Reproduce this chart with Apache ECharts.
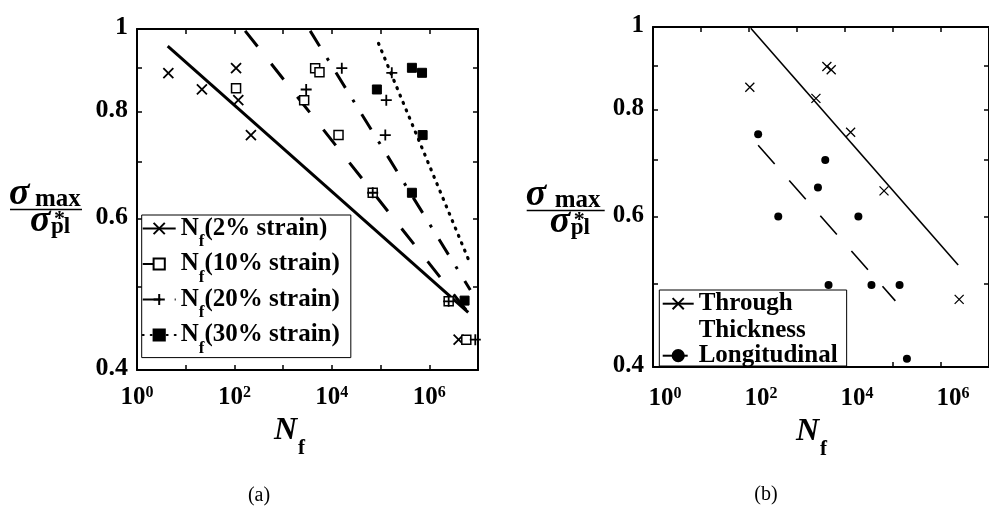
<!DOCTYPE html>
<html><head><meta charset="utf-8">
<script src="https://cdn.jsdelivr.net/npm/echarts@6/dist/echarts.min.js"></script>
<style>html,body{margin:0;padding:0;background:#fff}#c{width:989px;height:506px}</style>
</head><body><div id="c"></div>
<script>
// ---------- data: panel (a) ----------
const strain2N  = [4.4, 21.5, 108, 120, 218, 4.0e6];
const strain2S  = [0.888, 0.850, 0.900, 0.826, 0.752, 0.434];
const strain10N = [108, 4540, 5570, 2700, 1.37e4, 6.9e4, 2.5e6, 5.75e6];
const strain10S = [0.853, 0.900, 0.890, 0.826, 0.752, 0.644, 0.481, 0.434];
const strain20N = [1.6e4, 2970, 1.7e5, 1.31e5, 1.25e5, 6.9e4, 2.5e6, 8.8e6];
const strain20S = [0.900, 0.850, 0.889, 0.826, 0.752, 0.644, 0.481, 0.434];
const strain30N = [8.4e4, 4.4e5, 7.1e5, 7.3e5, 4.4e5, 5.3e6];
const strain30S = [0.850, 0.901, 0.889, 0.752, 0.644, 0.482];
const fit2N  = [4.27, 6.3e6];  const fit2S  = [0.955, 0.467];
const fit10N = [166, 6.4e6];   const fit10S = [0.995, 0.466];
const fit20N = [3590, 6.95e6]; const fit20S = [0.995, 0.496];
const fit30N = [9.08e4, 6.4e6]; const fit30S = [0.962, 0.538];
const legendA = ['2% strain', '10% strain', '20% strain', '30% strain'];
// ---------- data: panel (b) ----------
const throughN = [104, 4190, 5160, 2480, 1.31e4, 6.5e4, 2.39e6];
const throughS = [0.850, 0.899, 0.891, 0.825, 0.753, 0.643, 0.480];
const longN = [155, 3880, 2730, 407, 1.9e4, 4540, 3.56e4, 1.37e5, 1.95e5];
const longS = [0.749, 0.699, 0.649, 0.600, 0.600, 0.499, 0.499, 0.499, 0.409];
const fitThroughN = [109, 2.28e6]; const fitThroughS = [0.9965, 0.5265];
const fitLongN = [155, 1.12e5];    const fitLongS = [0.727, 0.478];
const legendB = ['Through Thickness', 'Longitudinal'];
// ---------- axes ticks ----------
const xTickValues  = [1, 10, 100, 1e3, 1e4, 1e5, 1e6, 1e7];
const xLabelValues = [1, 100, 1e4, 1e6];
const yTickValues  = [0.4, 0.5, 0.6, 0.7, 0.8, 0.9, 1];
const yLabelValues = [0.4, 0.6, 0.8, 1];

const FONT = 'Liberation Serif';
const CROSS = 'path://M0,0L10,10M10,0L0,10';
const PLUS = 'path://M5,0L5,10M0,5L10,5';
const pts = (xs, ys) => xs.map((x, i) => [x, ys[i]]);

const xRich = {
  b: {fontFamily: FONT, fontWeight: 'bold', fontSize: 25, lineHeight: 25, verticalAlign: 'bottom', color: '#000'},
  p: {fontFamily: FONT, fontWeight: 'bold', fontSize: 16, lineHeight: 16, verticalAlign: 'top', color: '#000'}
};
const nameRich = {
  n: {fontFamily: FONT, fontWeight: 'bold', fontStyle: 'italic', fontSize: 32, lineHeight: 32, verticalAlign: 'top', color: '#000'},
  s: {fontFamily: FONT, fontWeight: 'bold', fontSize: 21, verticalAlign: 'top', padding: [23, 0, 0, 1], color: '#000'}
};
function xAxisDef(grid, pos, labelShift, labelMargin, nameShift) {
  const bottom = pos === 'bottom';
  return {
    type: 'log', logBase: 10, gridIndex: grid, position: pos, min: 1, max: 1e7,
    axisLine: {show: true, onZero: false, lineStyle: {color: '#000', width: 2}},
    axisTick: {show: true, inside: true, length: 5, customValues: xTickValues, lineStyle: {color: '#000', width: 1.5}},
    axisLabel: {show: bottom, customValues: xLabelValues, margin: labelMargin, padding: [0, 0, 0, labelShift],
      formatter: v => '{b|10}{p|' + Math.round(Math.log10(v)) + '}', rich: xRich},
    splitLine: {show: false},
    name: bottom ? '{n|N}{s|f}' : '', nameLocation: 'middle', nameGap: 34,
    nameTextStyle: {rich: nameRich, padding: [0, nameShift, 0, 0]}
  };
}
function yAxisDef(grid, pos, fs, lh) {
  const left = pos === 'left';
  return {
    type: 'log', logBase: 10, gridIndex: grid, position: pos, min: 0.4, max: 1,
    axisLine: {show: true, onZero: false, lineStyle: {color: '#000', width: 2}},
    axisTick: {show: true, inside: true, length: 5, customValues: yTickValues, lineStyle: {color: '#000', width: 1.5}},
    axisLabel: {show: left, customValues: yLabelValues, margin: 9, verticalAlign: 'bottom', lineHeight: lh,
      fontFamily: FONT, fontWeight: 'bold', fontSize: fs, color: '#000',
      formatter: v => String(Math.round(v * 10) / 10)},
    splitLine: {show: false}
  };
}
function fitSeries(name, xi, yi, xs, ys, sym, size, lw, dash, cap, iw) {
  return {type: 'line', name, xAxisIndex: xi, yAxisIndex: yi, data: pts(xs, ys), symbol: sym, symbolSize: size,
    showSymbol: false, silent: true, z: 2,
    lineStyle: {color: '#000', width: lw, type: dash, cap: cap || 'butt'},
    itemStyle: {color: iw ? '#fff' : '#000', borderColor: '#000', borderWidth: 1.5}};
}
function ptSeries(name, xi, yi, xs, ys, sym, size, fill, bw) {
  return {type: 'scatter', name, xAxisIndex: xi, yAxisIndex: yi, data: pts(xs, ys), symbol: sym, symbolSize: size, z: 3,
    itemStyle: {color: fill, borderColor: '#000', borderWidth: bw, opacity: 1}};
}
function fraction(x0, dy, dx2) {
  const t = (x, y, text, font) => ({type: 'text', x, y: y + dy, silent: true,
    style: {text, font, fill: '#000', align: 'left', verticalAlign: 'middle'}});
  return [
    t(x0 - 1, 194, 'σ', 'italic bold 38px "Liberation Serif"'),
    t(x0 + 25 + dx2, 200, 'max', 'bold 25px "Liberation Serif"'),
    {type: 'line', silent: true, shape: {x1: x0, y1: 209.5 + dy, x2: x0 + 72 + dx2 * 2, y2: 209.5 + dy}, style: {stroke: '#000', lineWidth: 1.5}},
    t(x0 + 20 + dx2, 221, 'σ', 'italic bold 38px "Liberation Serif"'),
    t(x0 + 44 + dx2, 219, '*', 'bold 22px "Liberation Serif"'),
    t(x0 + 41 + dx2, 227, 'pl', 'bold 23px "Liberation Serif"')
  ];
}

const option = {
  animation: false,
  backgroundColor: '#fff',
  textStyle: {fontFamily: FONT},
  grid: [
    {left: 137, top: 29, width: 341, height: 341},
    {left: 653, top: 27, width: 339, height: 340}
  ],
  xAxis: [xAxisDef(0, 'bottom', 0, 15, 36), xAxisDef(0, 'top', 0, 12, 0),
          xAxisDef(1, 'bottom', 24, 19, 19), xAxisDef(1, 'top', 0, 12, 0)],
  yAxis: [yAxisDef(0, 'left', 26, 4), yAxisDef(0, 'right', 26, 4),
          yAxisDef(1, 'left', 25, 2), yAxisDef(1, 'right', 25, 2)],
  legend: [
    {data: legendA, orient: 'vertical', left: 141.7, top: 215, itemWidth: 33, itemHeight: 14, itemGap: 1,
     padding: [1, 11, 0.6, 0], backgroundColor: '#fff', borderColor: '#000', borderWidth: 1, borderRadius: 0,
     selectedMode: false, z: 10,
     formatter: name => '{n|N}{s|f}{t|(' + name + ')}',
     textStyle: {color: '#000', rich: {
       n: {fontFamily: FONT, fontWeight: 'bold', fontSize: 25, verticalAlign: 'middle', color: '#000'},
       s: {fontFamily: FONT, fontWeight: 'bold', fontSize: 17, verticalAlign: 'top', padding: [27, 0, 0, 0], color: '#000'},
       t: {fontFamily: FONT, fontWeight: 'bold', fontSize: 25, verticalAlign: 'middle', color: '#000'}
     }}},
    {data: legendB,
     orient: 'vertical', left: 659.3, top: 290, itemWidth: 31, itemHeight: 14, itemGap: -1.2,
     padding: [-26.2, 9, -3, 2.4], backgroundColor: '#fff', borderColor: '#000', borderWidth: 1, borderRadius: 0,
     selectedMode: false, z: 10,
     formatter: name => name === 'Through Thickness' ? ' \nThrough\nThickness' : name,
     textStyle: {color: '#000', fontFamily: FONT, fontWeight: 'bold', fontSize: 25, lineHeight: 26.6}}
  ],
  series: [
    fitSeries(legendA[0], 0, 0, fit2N, fit2S, CROSS, 10, 3, 'solid'),
    fitSeries(legendA[1], 0, 0, fit10N, fit10S, 'rect', 9, 3, [20, 22], 'butt', true),
    fitSeries(legendA[2], 0, 0, fit20N, fit20S, PLUS, 10, 3, [18, 14, 3, 14]),
    fitSeries(legendA[3], 0, 0, fit30N, fit30S, 'rect', 9, 3.2, [1, 7], 'round'),
    ptSeries(legendA[0], 0, 0, strain2N, strain2S, CROSS, 10, '#000', 1.8),
    ptSeries(legendA[1], 0, 0, strain10N, strain10S, 'rect', 9, '#fff', 1.5),
    ptSeries(legendA[2], 0, 0, strain20N, strain20S, PLUS, 11, '#000', 1.8),
    ptSeries(legendA[3], 0, 0, strain30N, strain30S, 'rect', 9, '#000', 1),
    fitSeries(legendB[0], 2, 2, fitThroughN, fitThroughS, CROSS, 9, 1.6, 'solid'),
    fitSeries(legendB[1], 2, 2, fitLongN, fitLongS, 'circle', 9, 1.6, [25, 22]),
    ptSeries(legendB[0], 2, 2, throughN, throughS, CROSS, 9, '#000', 1.3),
    ptSeries(legendB[1], 2, 2, longN, longS, 'circle', 8, '#000', 0)
  ],
  graphic: [
    ...fraction(10, 0, 0),
    ...fraction(526.7, 1, 3),
    {type: 'text', x: 259, y: 496, silent: true, style: {text: '(a)', font: '20px "Liberation Serif"', fill: '#000', align: 'center', verticalAlign: 'middle'}},
    {type: 'text', x: 766, y: 495, silent: true, style: {text: '(b)', font: '20px "Liberation Serif"', fill: '#000', align: 'center', verticalAlign: 'middle'}}
  ]
};
const chart = echarts.init(document.getElementById('c'));
chart.setOption(option);
</script>
</body></html>
